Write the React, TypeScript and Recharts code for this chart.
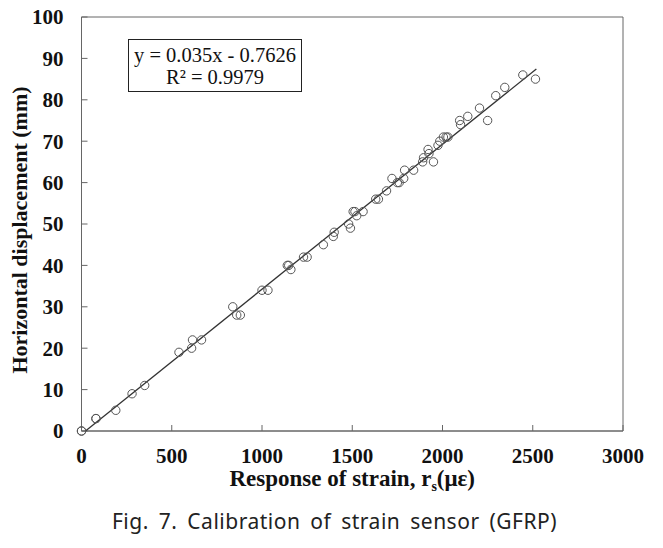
import { ScatterChart, Scatter, XAxis, YAxis, ReferenceArea, Label } from "recharts";

const strain = [
  0, 0, 80, 80, 190, 280, 350, 540, 610, 615, 665, 838, 860, 880, 1000, 1033,
  1140, 1148, 1160, 1230, 1250, 1340, 1395, 1400, 1480, 1490, 1505, 1515, 1525,
  1560, 1630, 1645, 1690, 1720, 1750, 1760, 1785, 1790, 1840, 1890, 1895, 1920,
  1925, 1950, 1975, 1985, 2005, 2020, 2030, 2095, 2100, 2140, 2205, 2250, 2295,
  2345, 2445, 2515,
];
const displacement = [
  0, 0, 3, 3, 5, 9, 11, 19, 20, 22, 22, 30, 28, 28, 34, 34,
  40, 40, 39, 42, 42, 45, 47, 48, 50, 49, 53, 53, 52,
  53, 56, 56, 58, 61, 60, 60, 61, 63, 63, 65, 66, 68,
  67, 65, 69, 70, 71, 71, 71, 75, 74, 76, 78, 75, 81,
  83, 86, 85,
];

// linear fit y = 0.035x - 0.7626
const fitX = [22, 2520];
const slope = 0.035;
const intercept = -0.7626;

const xTicks = [0, 500, 1000, 1500, 2000, 2500, 3000];
const yTicks = [0, 10, 20, 30, 40, 50, 60, 70, 80, 90, 100];

const points = strain.map((x, i) => ({ x, y: displacement[i] }));
const fitLine = fitX.map((x) => ({ x, y: slope * x + intercept }));

const serif = "'Liberation Serif', 'Times New Roman', serif";
const axisColor = "#666";

const XTitle = (props: any) => {
  const { x, y, width } = props.viewBox;
  return (
    <text
      x={x + width / 2}
      y={y + 55}
      textAnchor="middle"
      fontFamily={serif}
      fontWeight="bold"
      fontSize={23}
      fill="#111"
    >
      Response of strain, r
      <tspan dy={5} fontSize={14}>s</tspan>
      <tspan dy={-5}>(με)</tspan>
    </text>
  );
};

const noDot = () => <g />;

export default function App() {
  return (
    <div
      style={{
        position: "absolute",
        left: 0,
        top: 0,
        width: 663,
        height: 548,
        background: "#fff",
      }}
    >
      <ScatterChart
        width={663}
        height={548}
        margin={{ top: 17, right: 40, bottom: 67, left: 0 }}
      >
        <XAxis
          type="number"
          dataKey="x"
          domain={[0, 3000]}
          ticks={xTicks}
          height={50}
          stroke={axisColor}
          tickSize={-6}
          tickMargin={23}
          tick={{ fontFamily: serif, fontWeight: "bold", fontSize: 21, fill: "#111" }}
          label={<XTitle />}
        />
        <YAxis
          type="number"
          dataKey="y"
          domain={[0, 100]}
          ticks={yTicks}
          width={81.5}
          stroke={axisColor}
          tickSize={-6}
          tickMargin={24}
          tick={{ fontFamily: serif, fontWeight: "bold", fontSize: 21, fill: "#111" }}
        >
          <Label
            value="Horizontal displacement (mm)"
            angle={-90}
            position="insideLeft"
            offset={0}
            dx={19}
            dy={6}
            style={{
              fontFamily: serif,
              fontWeight: "bold",
              fontSize: 22,
              fill: "#111",
              textAnchor: "middle",
            }}
          />
        </YAxis>
        <ReferenceArea
          x1={0}
          x2={3000}
          y1={0}
          y2={100}
          fill="none"
          stroke={axisColor}
          strokeWidth={1}
        />
        <Scatter
          data={fitLine}
          line={{ stroke: "#333", strokeWidth: 1.3 }}
          shape={noDot}
          isAnimationActive={false}
        />
        <Scatter
          data={points}
          fill="none"
          stroke="#555"
          strokeWidth={1}
          shape={(p: any) => (
            <circle cx={p.cx} cy={p.cy} r={4.2} fill="none" stroke="#555" strokeWidth={1} />
          )}
          isAnimationActive={false}
        />
      </ScatterChart>
      <div
        style={{
          position: "absolute",
          left: 128,
          top: 39,
          width: 174,
          height: 53,
          border: "1px solid #222",
          fontFamily: serif,
          fontSize: 20.5,
          color: "#111",
          textAlign: "center",
          lineHeight: "22px",
          paddingTop: 4,
          whiteSpace: "nowrap",
          boxSizing: "border-box",
        }}
      >
        <div>y = 0.035x - 0.7626</div>
        <div>R² = 0.9979</div>
      </div>
      <div
        style={{
          position: "absolute",
          left: 0,
          width: 663,
          top: 507,
          textAlign: "center",
          fontFamily: "'Noto Sans', sans-serif",
          fontSize: 21,
          letterSpacing: 0.5,
          wordSpacing: 4,
          color: "#222",
          paddingLeft: 6,
          boxSizing: "border-box",
        }}
      >
        Fig. 7. Calibration of strain sensor (GFRP)
      </div>
    </div>
  );
}
